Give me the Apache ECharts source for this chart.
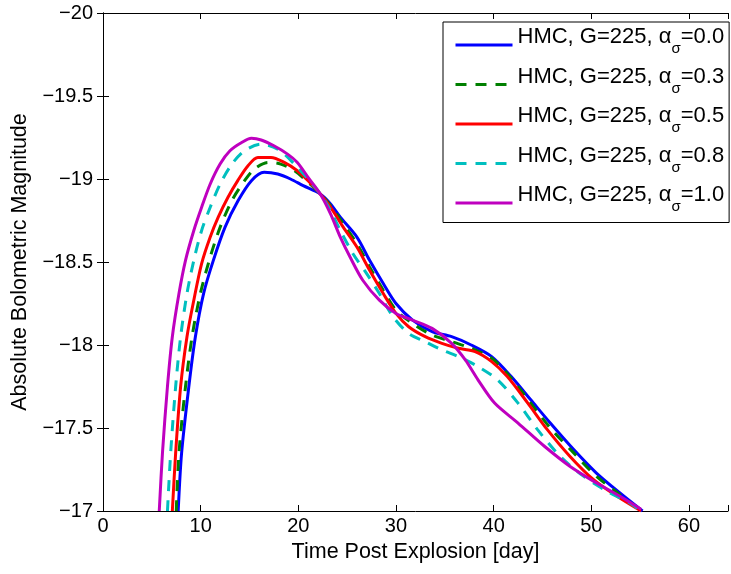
<!DOCTYPE html>
<html>
<head>
<meta charset="utf-8">
<script src="https://cdn.jsdelivr.net/npm/echarts@6/dist/echarts.min.js"></script>
<style>
html,body{margin:0;padding:0;background:#fff;}
#chart{width:731px;height:574px;}
</style>
</head>
<body>
<div id="chart"></div>
<script>
// ---- data (time in days, absolute bolometric magnitude) ----
const seriesNames = [
  'HMC, G=225, ασ=0.0',
  'HMC, G=225, ασ=0.3',
  'HMC, G=225, ασ=0.5',
  'HMC, G=225, ασ=0.8',
  'HMC, G=225, ασ=1.0'
];
const xTicks = [0, 10, 20, 30, 40, 50, 60];
const yTicks = [-20, -19.5, -19, -18.5, -18, -17.5, -17];

const t00 = [7.7, 8.05, 8.79, 9.46, 10.3, 11.3, 12.5, 13.84, 15.2, 16.5, 17.9, 19.2, 20.5, 22.25, 23.3, 24.3, 26.0, 27.3, 28.7, 30.0, 31.7, 33.7, 35.7, 37.7, 39.8, 41.8, 43.8, 45.8, 48.2, 50.5, 52.9, 55.25];
const m00 = [-17.0, -17.35, -17.75, -18.05, -18.31, -18.51, -18.71, -18.87, -18.99, -19.04, -19.03, -19.0, -18.96, -18.91, -18.85, -18.77, -18.65, -18.51, -18.37, -18.25, -18.15, -18.08, -18.05, -18.0, -17.93, -17.81, -17.67, -17.53, -17.37, -17.23, -17.11, -17.0];

const t03 = [7.5, 7.78, 8.45, 9.12, 9.97, 10.98, 12.0, 13.2, 14.5, 15.5, 16.9, 18.2, 19.6, 21.0, 22.25, 23.3, 24.6, 26.0, 27.3, 28.7, 30.0, 31.7, 33.7, 35.7, 37.7, 39.8, 41.8, 43.8, 45.8, 48.2, 50.5, 52.9, 55.1];
const m03 = [-17.0, -17.35, -17.75, -18.05, -18.31, -18.53, -18.71, -18.87, -18.99, -19.06, -19.10, -19.09, -19.05, -18.98, -18.91, -18.84, -18.73, -18.61, -18.47, -18.33, -18.21, -18.13, -18.06, -18.02, -17.98, -17.92, -17.80, -17.65, -17.50, -17.35, -17.21, -17.10, -17.0];

const t05 = [7.1, 7.44, 7.95, 8.6, 9.3, 10.1, 10.98, 11.8, 12.8, 13.8, 14.85, 15.86, 17.2, 18.56, 19.9, 21.0, 22.25, 23.3, 24.6, 26.0, 27.3, 28.7, 30.0, 31.3, 33.0, 34.7, 36.4, 38.1, 39.8, 41.4, 43.5, 45.5, 47.8, 50.2, 52.6, 55.1];
const m05 = [-17.0, -17.35, -17.75, -18.05, -18.27, -18.49, -18.65, -18.77, -18.89, -18.99, -19.08, -19.13, -19.13, -19.10, -19.05, -18.99, -18.91, -18.83, -18.71, -18.59, -18.45, -18.31, -18.19, -18.11, -18.05, -18.01, -17.98, -17.96, -17.90, -17.81, -17.65, -17.49, -17.33, -17.19, -17.09, -17.0];

const t08 = [6.6, 6.93, 7.44, 7.95, 8.6, 9.3, 10.1, 10.98, 12.0, 13.2, 14.5, 16.2, 17.9, 19.6, 21.0, 22.25, 23.3, 24.3, 25.6, 27.0, 28.3, 29.7, 31.3, 33.0, 34.7, 36.4, 38.4, 40.4, 42.5, 44.5, 46.8, 49.2, 51.6, 53.9, 55.1];
const m08 = [-17.0, -17.35, -17.75, -18.05, -18.31, -18.51, -18.69, -18.83, -18.97, -19.09, -19.17, -19.21, -19.18, -19.09, -19.0, -18.91, -18.81, -18.69, -18.55, -18.43, -18.31, -18.17, -18.07, -18.02, -17.97, -17.93, -17.87, -17.79, -17.65, -17.49, -17.33, -17.21, -17.12, -17.05, -17.0];

const t10 = [5.76, 6.09, 6.6, 7.1, 7.78, 8.45, 9.3, 10.1, 10.98, 11.99, 13.0, 14.2, 15.2, 16.2, 17.5, 18.9, 19.9, 21.0, 22.25, 23.3, 24.3, 25.3, 26.6, 28.3, 30.0, 31.7, 33.7, 35.7, 37.1, 38.4, 40.1, 42.5, 45.2, 47.8, 50.5, 52.9, 55.1];
const m10 = [-17.0, -17.35, -17.75, -18.05, -18.31, -18.51, -18.69, -18.83, -18.97, -19.09, -19.17, -19.22, -19.245, -19.235, -19.2, -19.15, -19.10, -19.01, -18.91, -18.79, -18.65, -18.53, -18.39, -18.27, -18.19, -18.15, -18.10, -18.01, -17.91, -17.79, -17.65, -17.53, -17.39, -17.27, -17.17, -17.09, -17.01];

const xs = [t00, t03, t05, t08, t10];
const ms = [m00, m03, m05, m08, m10];
const colors = ['#0000ff', '#008000', '#ff0000', '#00bfbf', '#bf00bf'];
const dashed = [false, true, false, true, false];

const FONT = 'Liberation Sans, Arial, Helvetica, sans-serif';
const minus = v => (v < 0 ? '\u2212' : '') + Math.abs(v);

const series = seriesNames.map((name, i) => ({
  name: name,
  type: 'line',
  data: xs[i].map((t, k) => [t, ms[i][k]]),
  symbol: 'none',
  showSymbol: false,
  smooth: 0.3,
  clip: true,
  lineStyle: { color: colors[i], width: 3, type: dashed[i] ? [11, 9] : 'solid' },
  itemStyle: { color: colors[i] },
  emphasis: { disabled: true },
  animation: false
}));

const chart = echarts.init(document.getElementById('chart'), null, { renderer: 'canvas' });
const axisCommon = {
  axisLine: { show: true, lineStyle: { color: '#000', width: 1 } },
  axisTick: { show: true, inside: true, length: 6, lineStyle: { color: '#000', width: 1 } },
  splitLine: { show: false }
};
chart.setOption({
  animation: false,
  backgroundColor: '#fff',
  textStyle: { fontFamily: FONT },
  grid: { left: 103, right: -5, top: 13, bottom: 63, containLabel: false },
  xAxis: [
    Object.assign({
      type: 'value', min: 0, max: 64, interval: 10, position: 'bottom',
      name: 'Time Post Explosion [day]', nameLocation: 'middle', nameGap: 27,
      nameTextStyle: { fontSize: 21.5, color: '#000', fontFamily: FONT },
      axisLabel: { fontSize: 20, color: '#000', margin: 5, fontFamily: FONT,
        formatter: v => xTicks.includes(v) ? minus(v) : '' }
    }, axisCommon),
    Object.assign({
      type: 'value', min: 0, max: 64, interval: 10, position: 'top',
      axisLabel: { show: false }
    }, axisCommon)
  ],
  yAxis: [
    Object.assign({
      type: 'value', min: -20, max: -17, interval: 0.5, inverse: true, position: 'left',
      name: 'Absolute Bolometric Magnitude', nameLocation: 'middle', nameGap: 69, nameRotate: 90,
      nameTextStyle: { fontSize: 21.5, color: '#000', fontFamily: FONT },
      axisLabel: { fontSize: 20, color: '#000', margin: 10, fontFamily: FONT,
        formatter: v => yTicks.includes(v) ? minus(v) : '' }
    }, axisCommon),
    Object.assign({
      type: 'value', min: -20, max: -17, interval: 0.5, inverse: true, position: 'right',
      axisLabel: { show: false }
    }, axisCommon)
  ],
  legend: {
    show: true,
    orient: 'vertical',
    left: 443, top: 22,
    padding: [4, 5, 8, 11],
    itemGap: 9,
    itemWidth: 57, itemHeight: 14,
    backgroundColor: '#fff',
    borderColor: '#000', borderWidth: 1,
    selectedMode: false,
    itemStyle: { opacity: 0 },
    lineStyle: { width: 3 },
    data: seriesNames,
    formatter: name => {
      const p = name.split('σ');
      return '{a|' + p[0] + '}{s|σ}{a|' + p[1] + '}';
    },
    textStyle: {
      fontFamily: FONT, color: '#000', fontSize: 22,
      rich: {
        a: { fontSize: 22, fontFamily: FONT, color: '#000', padding: [0, 0, 16, 0] },
        s: { fontSize: 15, fontFamily: FONT, color: '#000', padding: [8, 0, 0, 0] }
      }
    }
  },
  series: series
});
</script>
</body>
</html>
